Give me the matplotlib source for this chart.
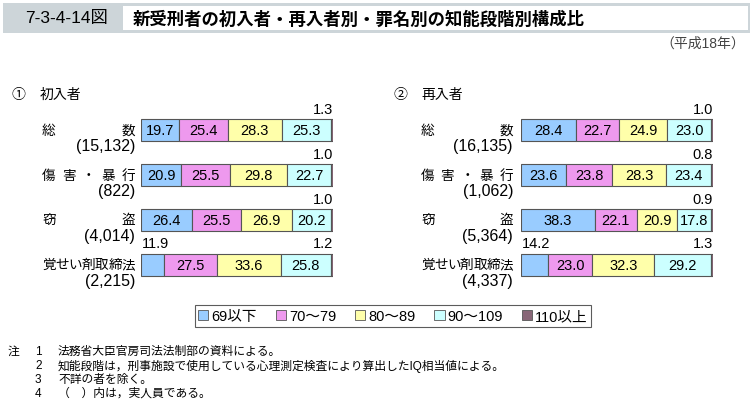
import numpy as np
import matplotlib
matplotlib.use("Agg")
import matplotlib.pyplot as plt
from matplotlib.patches import Rectangle, Patch

plt.rcParams['font.family'] = ['Liberation Sans', 'Noto Sans CJK JP', 'DejaVu Sans']

W, H = 752, 414

bands = ["69以下", "70～79", "80～89", "90～109", "110以上"]
colors = ["#99CCFF", "#EE99EE", "#FFFFAA", "#CCFFFF", "#886677"]

crimes = ["総数", "傷害・暴行", "窃盗", "覚せい剤取締法"]

first_counts = ["15,132", "822", "4,014", "2,215"]
first_vals = [
    [19.7, 25.4, 28.3, 25.3, 1.3],
    [20.9, 25.5, 29.8, 22.7, 1.0],
    [26.4, 25.5, 26.9, 20.2, 1.0],
    [11.9, 27.5, 33.6, 25.8, 1.2],
]

repeat_counts = ["16,135", "1,062", "5,364", "4,337"]
repeat_vals = [
    [28.4, 22.7, 24.9, 23.0, 1.0],
    [23.6, 23.8, 28.3, 23.4, 0.8],
    [38.3, 22.1, 20.9, 17.8, 0.9],
    [14.2, 23.0, 32.3, 29.2, 1.3],
]

notes = [
    ("注", "1", "法務省大臣官房司法法制部の資料による。"),
    ("", "2", "知能段階は，刑事施設で使用している心理測定検査により算出したIQ相当値による。"),
    ("", "3", "不詳の者を除く。"),
    ("", "4", "（　）内は，実人員である。"),
]


def fx(x):
    return x / W


def fy(y):
    return 1 - y / H


fig = plt.figure(figsize=(W / 100, H / 100), dpi=100)

# title block
fig.patches.append(Rectangle((fx(3), fy(34)), fx(747), 30 / H, transform=fig.transFigure,
                             facecolor="#CDD5D9", edgecolor="none"))
fig.patches.append(Rectangle((fx(123), fy(31)), fx(625), 24 / H, transform=fig.transFigure,
                             facecolor="white", edgecolor="none"))
fig.text(fx(67), fy(19), "7-3-4-14図", ha="center", va="center", fontsize=12.5)
fig.text(fx(133), fy(19), "新受刑者の初入者・再入者別・罪名別の知能段階別構成比",
         ha="left", va="center", fontsize=12.5, fontweight="bold")
fig.text(fx(745), fy(44), "（平成18年）", ha="right", va="center", fontsize=10, color="#444444")


def spread(label, left, right, y, fs):
    w = fs * 100 / 72
    n = len(label)
    if n == 1:
        fig.text(fx(left), fy(y), label, ha="left", va="center", fontsize=fs)
        return
    xs = np.linspace(left + w / 2, right - w / 2, n)
    for ch, x in zip(label, xs):
        fig.text(fx(x), fy(y), ch, ha="center", va="center", fontsize=fs)


def panel(x0, lab_left, lab_right, vals, counts, num, title):
    ax = fig.add_axes([fx(x0), fy(288), 192 / W, 179 / H])
    ypos = np.arange(len(crimes))
    data = np.array(vals)
    left = np.zeros(len(crimes))
    for j in range(len(bands)):
        ax.barh(ypos, data[:, j], left=left, height=0.49, color=colors[j],
                edgecolor="#555555", linewidth=0.8)
        for i in range(len(crimes)):
            v = data[i, j]
            if j == len(bands) - 1:
                ax.text(100, i - 0.32, f"{v:.1f}", ha="right", va="bottom", fontsize=10.5)
            elif v < 15:
                ax.text(left[i] + 0.5, i - 0.32, f"{v:.1f}", ha="left", va="bottom", fontsize=10.5)
            else:
                ax.text(left[i] + v / 2, i, f"{v:.1f}", ha="center", va="center", fontsize=10.5)
        left += data[:, j]
    ax.set_xlim(0, 100)
    ax.set_ylim(3.5, -0.5)
    ax.axis("off")

    fig.text(fx(num[0]), fy(95), num[1], ha="left", va="center", fontsize=10)
    fig.text(fx(num[0] + 28), fy(95), title, ha="left", va="center", fontsize=10)
    for i, (c, n) in enumerate(zip(crimes, counts)):
        yc = 131 + 44.7 * i
        spread(c, lab_left, lab_right, yc, 9.8)
        fig.text(fx(lab_right), fy(yc + 16), f"({n})", ha="right", va="center", fontsize=11.5)


panel(141, 42, 135, first_vals, first_counts, (12, "①"), "初入者")
panel(521, 421, 513, repeat_vals, repeat_counts, (393, "②"), "再入者")

handles = [Patch(facecolor=c, edgecolor="#555555", linewidth=0.6) for c in colors]
leg = fig.legend(handles, bands, loc="center", bbox_to_anchor=(fx(393), fy(317)),
                 ncol=5, fontsize=10.5, frameon=True, fancybox=False, handlelength=0.7,
                 handleheight=0.7, handletextpad=0.2, columnspacing=1.3, borderpad=0.25)
leg.get_frame().set_edgecolor("#333333")
leg.get_frame().set_linewidth(0.8)

for k, (a, b, t) in enumerate(notes):
    y = 352 + 14 * k
    if a:
        fig.text(fx(8), fy(y), a, ha="left", va="center", fontsize=8.5)
    fig.text(fx(35), fy(y), b, ha="left", va="center", fontsize=8.5)
    fig.text(fx(58), fy(y), t, ha="left", va="center", fontsize=8.5)

fig.savefig("out.png", dpi=100)
